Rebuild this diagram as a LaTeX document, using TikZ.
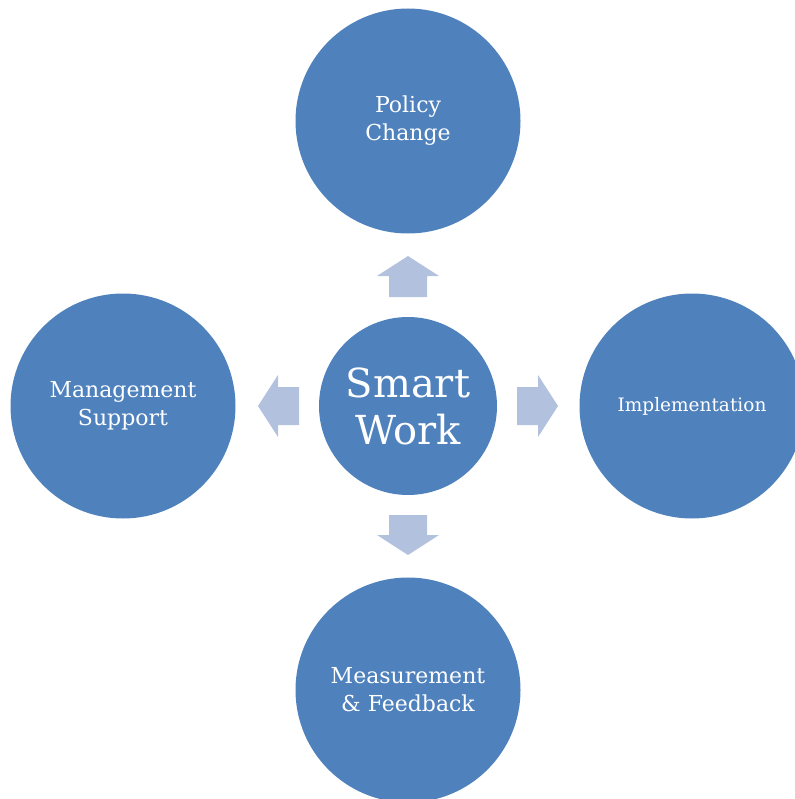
\documentclass[tikz,border=0pt]{standalone}
\usepackage{fontspec}
\setmainfont{DejaVu Serif}
\definecolor{circblue}{HTML}{4F81BD}
\definecolor{arrowblue}{HTML}{B2C2DE}
\begin{document}
\begin{tikzpicture}[x=1pt,y=-1pt,
  bigcirc/.style={circle,fill=circblue,draw=none,minimum size=225pt,inner sep=0pt,text=white,align=center,font=\fontsize{22}{28}\selectfont},
  hubcirc/.style={circle,fill=circblue,draw=none,minimum size=178pt,inner sep=0pt,text=white,align=center,font=\fontsize{40}{47}\selectfont},
  blockarrow/.style={fill=arrowblue,draw=none}]
\useasboundingbox (0,0) rectangle (794,799);
\node[hubcirc] (hub) at (408,406) {Smart\\Work};
\node[bigcirc] (policy) at (408,121) {Policy\\Change};
\node[bigcirc] (mgmt) at (123,406) {Management\\Support};
\node[bigcirc,font=\fontsize{18.5}{24}\selectfont] (impl) at (692,406) {Implementation};
\node[bigcirc] (meas) at (408,690) {Measurement\\\& Feedback};
% up arrow
\fill[blockarrow] (389,297) -- (389,276) -- (377,276) -- (408,256) -- (439,276) -- (427,276) -- (427,297) -- cycle;
% down arrow
\fill[blockarrow] (389,515) -- (389,535) -- (377,535) -- (408,555) -- (439,535) -- (427,535) -- (427,515) -- cycle;
% left arrow
\fill[blockarrow] (299,387) -- (278,387) -- (278,375) -- (258,406) -- (278,437) -- (278,425) -- (299,425) -- cycle;
% right arrow
\fill[blockarrow] (517,387) -- (538,387) -- (538,375) -- (558,406) -- (538,437) -- (538,425) -- (517,425) -- cycle;
\end{tikzpicture}
\end{document}
